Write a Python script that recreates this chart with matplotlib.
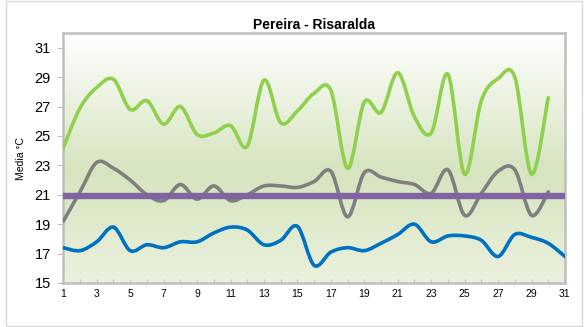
import numpy as np
import matplotlib.pyplot as plt
from matplotlib.path import Path
from matplotlib.patches import PathPatch, Rectangle
from matplotlib.colors import LinearSegmentedColormap

plt.rcParams['font.family'] = ['Liberation Sans', 'DejaVu Sans']

# Daily temperatures, Pereira - Risaralda
days = list(range(1, 32))
t_max = [24.2, 26.9, 28.3, 28.85, 26.8, 27.4, 25.8, 27.0, 25.1, 25.2,
         25.7, 24.3, 28.8, 25.9, 26.7, 27.9, 28.1, 22.8, 27.3, 26.6,
         29.3, 26.3, 25.2, 29.2, 22.4, 27.4, 28.9, 29.0, 22.4, 27.6]
t_mean = [19.2, 21.2, 23.2, 22.8, 22.0, 21.0, 20.6, 21.7, 20.7, 21.6,
          20.6, 21.0, 21.6, 21.6, 21.5, 21.9, 22.6, 19.5, 22.5, 22.2,
          21.9, 21.7, 21.1, 22.7, 19.6, 21.1, 22.6, 22.7, 19.6, 21.2]
t_min = [17.4, 17.2, 17.8, 18.8, 17.2, 17.6, 17.4, 17.8, 17.8, 18.4,
         18.8, 18.6, 17.6, 17.9, 18.85, 16.2, 17.1, 17.4, 17.2, 17.7,
         18.3, 19.0, 17.8, 18.2, 18.2, 17.9, 16.8, 18.3, 18.1, 17.7, 16.8]
t_avg = 20.9

y_ticks = list(range(15, 32, 2))
x_labels = [str(d) if d % 2 == 1 else '' for d in days]


def smooth_path(xs, ys):
    """Excel-style smoothed line: cubic Bezier segments through each point."""
    pts = np.column_stack([xs, ys]).astype(float)
    n = len(pts)
    verts = [pts[0]]
    codes = [Path.MOVETO]
    for i in range(n - 1):
        p0 = pts[i - 1] if i > 0 else pts[i]
        p1 = pts[i]
        p2 = pts[i + 1]
        p3 = pts[i + 2] if i + 2 < n else pts[i + 1]
        c1 = p1 + (p2 - p0) / 6.0
        c2 = p2 - (p3 - p1) / 6.0
        verts += [c1, c2, p2]
        codes += [Path.CURVE4] * 3
    return Path(verts, codes)


fig = plt.figure(figsize=(5.84, 3.27), dpi=100)
ax = fig.add_axes([0.1084, 0.1346, 0.859, 0.7644])
ax.set_xlim(1, 31)
ax.set_ylim(15, 32)

# background gradient: white at top, green through the middle, pale at bottom
cmap = LinearSegmentedColormap.from_list(
    'bg', [(0.0, '#eaf1dd'), (0.45, '#d6e4bf'), (1.0, '#ffffff')])
grad = np.linspace(0, 1, 256).reshape(-1, 1)
ax.imshow(grad, extent=[1, 31, 15, 32], origin='lower', aspect='auto',
          cmap=cmap, zorder=0)

for ys, color, lw in [(t_max, '#8fd04c', 2.6),
                      (t_mean, '#7f7f7f', 2.6),
                      (t_min, '#0070c0', 2.6)]:
    xs = days[:len(ys)]
    ax.add_patch(PathPatch(smooth_path(xs, ys), facecolor='none',
                           edgecolor=color, lw=lw, capstyle='round',
                           joinstyle='round', zorder=3))

ax.plot([days[0], days[-1]], [t_avg, t_avg], color='#8064a2', lw=4.6,
        solid_capstyle='butt', zorder=4)

for sp in ax.spines.values():
    sp.set_color('#bfbfbf')
    sp.set_linewidth(1.8)

ax.set_yticks(y_ticks)
ax.set_yticklabels([str(v) for v in y_ticks], fontsize=10.5)
ax.tick_params(axis='y', direction='out', length=4, width=0.8,
               color='#bfbfbf', pad=5)
ax.set_xticks(days)
ax.set_xticklabels(x_labels, fontsize=7.5)
ax.tick_params(axis='x', direction='in', length=3, width=0.8,
               color='#bfbfbf', pad=4)

ax.set_ylabel('Media °C', fontsize=7.5, labelpad=6)
ax.set_title('Pereira - Risaralda', fontsize=10, fontweight='bold', pad=3)

# light border round the whole chart
fig.patches.append(Rectangle((6 / 584, 1 / 327), 576 / 584, 325 / 327,
                             transform=fig.transFigure, fill=False,
                             edgecolor='#d9d9d9', lw=1.0))

fig.savefig('out.png', dpi=100)
